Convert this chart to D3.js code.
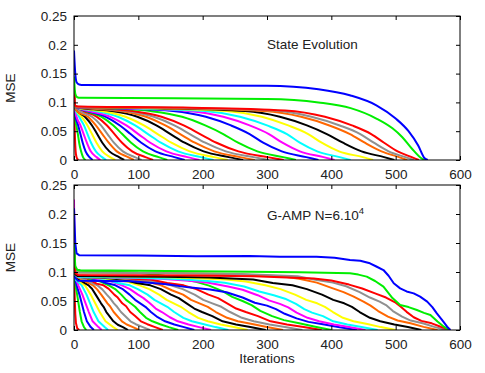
<!DOCTYPE html>
<html>
<head>
<meta charset="utf-8">
<script src="https://cdn.jsdelivr.net/npm/d3@7"></script>
<style>
  body { margin: 0; background: #fff; }
  text { font-family: "Liberation Sans", Arial, sans-serif; font-size: 13.5px; fill: #222; }
</style>
</head>
<body>
<div id="chart"></div>
<script>
// colour cycle used by the curves (gnuplot-like)
const lineColors = ["#ff0000", "#00ee00", "#0000ff", "#ff00ff", "#00ffff", "#ffff00", "#000000", "#ff6600", "#909090"];
const xTicks = [0, 100, 200, 300, 400, 500, 600];
const yTicks = [0, 0.05, 0.1, 0.15, 0.2, 0.25];

// State evolution: one curve per block, flat list of (iteration, MSE) pairs
const stateEvolution = [
  [0,.12, 1,.06, 2,.025, 3,.01, 5,.002, 7,0],
  [0,.12, 2,.07, 4,.058, 6,.045, 8,.03, 11,.015, 14,.005, 18,0],
  [0,.12, 2,.078, 6.5,.06, 10,.045, 13.5,.03, 18,.015, 24,.005, 29,0],
  [0,.12, 2,.085, 4,.075, 10,.06, 15,.045, 20,.03, 26,.015, 35,.005, 41,0],
  [0,.12, 2,.089, 8,.075, 15.5,.06, 21,.045, 26.5,.03, 34,.015, 43.6,.005, 50,0],
  [0,.12, 2,.09, 12,.075, 21,.06, 28,.045, 35,.03, 44,.015, 56,.005, 64,0],
  [0,.12, 2,.089, 17,.075, 28,.06, 36,.045, 44,.03, 55,.015, 70,.005, 78,0],
  [0,.12, 2,.091, 4.4,.085, 21.5,.075, 34,.06, 44,.045, 54,.03, 66.5,.015, 84,.005, 93,0],
  [0,.12, 2,.091, 5,.089, 9.6,.085, 28,.075, 42,.06, 52,.045, 62,.03, 76,.015, 94.5,.005, 105,0],
  [0,.12, 2,.092, 6,.09, 15,.085, 35.6,.075, 51.3,.06, 63,.045, 74.7,.03, 90.4,.015, 111,.005, 123,0],
  [0,.12, 2,.092, 6,.09, 18.4,.085, 42.8,.075, 61.2,.06, 75,.045, 88.8,.03, 107.2,.015, 131.6,.005, 145,0],
  [0,.12, 2,.092, 6,.09, 20,.085, 49.4,.075, 71.4,.06, 88,.045, 104.6,.03, 126.6,.015, 156,.005, 172,0],
  [0,.12, 2,.092, 6,.09, 23.6,.085, 56.5,.075, 81.4,.06, 100,.045, 118.6,.03, 143.5,.015, 176.4,.005, 195,0],
  [0,.12, 2,.092, 6,.09, 16,.088, 33,.085, 68.3,.075, 95,.06, 115,.045, 135,.03, 161.7,.015, 197,.005, 217,0],
  [0,.12, 2,.092, 6,.0905, 21,.088, 42.3,.085, 80,.075, 108.6,.06, 130,.045, 151.4,.03, 180,.015, 217.7,.005, 239,0],
  [0,.12, 2,.092, 6,.0905, 30,.088, 59.4,.085, 98.5,.075, 128,.06, 150,.045, 172,.03, 201.5,.015, 240.6,.005, 263,0],
  [0,.12, 2,.092, 6,.091, 36,.0885, 71.6,.085, 112,.075, 142,.06, 165,.045, 188,.03, 218,.015, 258,.005, 281,0],
  [0,.12, 2,.092, 6,.091, 40,.089, 81,.085, 124,.075, 156,.06, 180,.045, 204,.03, 236,.015, 279,.005, 303,0],
  [0,.12, 2,.092, 6,.0915, 45,.0895, 91,.085, 136,.075, 170.5,.06, 196,.045, 221.5,.03, 255.6,.015, 300.7,.005, 326,0],
  [0,.12, 2,.092, 6,.0915, 60,.0895, 119,.085, 168,.075, 204,.06, 232,.045, 255,.03, 285,.015, 325,.005, 345,0],
  [0,.12, 2,.092, 6,.0915, 75,.0895, 154,.085, 205,.075, 244,.06, 273,.045, 294,.03, 323,.015, 361,.005, 380,0],
  [0,.12, 2,.092, 6,.0915, 90,.0895, 178,.085, 232,.075, 273,.06, 303,.045, 324,.03, 351,.015, 388,.005, 405,0],
  [0,.12, 2,.092, 6,.092, 100,.0895, 204,.085, 258,.075, 300,.06, 331,.045, 351,.03, 378,.015, 413,.005, 430,0],
  [0,.12, 2,.093, 6,.092, 120,.0898, 237,.085, 292,.075, 333,.06, 364,.045, 385,.03, 412,.015, 449,.005, 465,0],
  [0,.12, 2,.093, 6,.092, 130,.09, 266,.085, 320,.075, 362,.06, 393,.045, 418,.03, 447,.015, 482,.005, 498,0],
  [0,.12, 2,.093, 6,.092, 150,.09, 296,.085, 353,.075, 397,.06, 429,.045, 452,.03, 478,.015, 505,.005, 518,0],
  [0,.12, 2,.094, 6,.0925, 160,.0905, 312,.086, 369,.075, 413,.06, 445,.045, 466,.03, 489,.015, 515,.005, 528,0],
  [0,.12, 2,.094, 6,.093, 170,.091, 328,.086, 390,.075, 432,.06, 462,.045, 482,.03, 503,.015, 525,.005, 536,0],
  [0,.145, 2,.115, 5,.109, 10,.108, 300,.106, 380,.10, 430,.09, 470,.072, 495,.055, 510,.04, 525,.02, 540,.003, 545,0],
  [0,.19, 2,.15, 4,.135, 8,.131, 15,.13, 300,.129, 380,.123, 430,.112, 470,.095, 500,.072, 520,.05, 535,.025, 545,.003, 550,0]
];

const gampRuns = [
  [0,.13, 1,.06, 2,.028, 3,.012, 5,.003, 8,0],
  [0,.13, 1,.09, 2.2,.077, 4.9,.061, 7,.046, 9.1,.031, 11.8,.015, 15.5,.005, 19,0],
  [0,.13, 2,.088, 4,.077, 8.5,.061, 12,.046, 15.5,.031, 20,.015, 26,.005, 31,0],
  [0,.225, 1,.12, 2,.092, 6.7,.077, 13,.061, 18,.046, 23,.031, 29,.015, 38,.005, 43,0],
  [0,.13, 2.4,.087, 12,.077, 19.5,.061, 25,.046, 30.5,.031, 38,.015, 47.6,.005, 53,0],
  [0,.13, 2,.093, 4.7,.087, 17,.077, 26,.061, 33,.046, 40,.031, 49,.015, 61,.005, 68,0],
  [0,.13, 2,.093, 8,.087, 22.7,.077, 28,.071, 33.7,.061, 42,.046, 46,.040, 50.3,.031, 61.3,.015, 68,.009, 76,.005, 84,0],
  [0,.13, 2,.093, 12.4,.087, 29.5,.077, 36,.070, 42.3,.061, 52,.046, 56,.041, 61.7,.031, 74.5,.015, 82,.0095, 91.6,.005, 101,0],
  [0,.13, 2,.093, 16.7,.087, 36.2,.077, 44,.070, 51,.061, 56,.055, 62,.046, 67,.040, 73,.031, 87.8,.015, 96,.010, 107,.005, 118,0],
  [0,.13, 2,.094, 6,.092, 15,.091, 24,.087, 35,.080, 46,.077, 54,.071, 62.6,.061, 68,.056, 75,.046, 81,.041, 87.4,.031, 95,.024, 104,.015, 114,.010, 126,.005, 138,0],
  [0,.13, 2,.094, 6,.092, 17,.0905, 28.6,.087, 41,.0835, 54.2,.077, 64,.0705, 73.5,.061, 81,.052, 88,.046, 95,.040, 102.5,.031, 112,.021, 121.8,.015, 134,.010, 147.4,.005, 162,0],
  [0,.13, 2,.094, 6,.092, 20,.091, 35,.087, 50,.081, 64.4,.077, 75,.071, 86.4,.061, 95,.052, 103,.046, 111,.040, 119.6,.031, 130,.022, 141.6,.015, 156,.0095, 171,.005, 187,0],
  [0,.13, 2,.094, 6,.092, 24,.0905, 41.6,.087, 58,.0835, 74.5,.077, 87,.0705, 99.4,.061, 108,.055, 118,.046, 127,.037, 136.6,.031, 149,.022, 161.5,.015, 178,.0095, 194.4,.005, 213,0],
  [0,.13, 2,.094, 6,.092, 28,.091, 50,.087, 68,.081, 86.7,.077, 100,.070, 114.3,.061, 125,.052, 135,.046, 145,.040, 155.7,.031, 170,.021, 183.3,.015, 202,.010, 220,.005, 240,0],
  [0,.13, 2,.094, 6,.092, 34,.0905, 61.6,.087, 82,.0835, 101.9,.077, 117,.0705, 132.2,.061, 144,.052, 155,.046, 166,.040, 177.8,.031, 193,.021, 208,.015, 228,.0095, 248.4,.005, 270,0],
  [0,.13, 2,.094, 6,.092, 40,.0905, 76,.087, 97,.081, 118.7,.077, 135,.0705, 150.8,.061, 163,.055, 175,.046, 187,.037, 199,.031, 215,.024, 231,.015, 252,.0095, 274,.005, 298,0],
  [0,.13, 2,.095, 6,.093, 48,.0915, 90.3,.087, 113,.0835, 135.4,.077, 152,.0685, 169.5,.061, 182,.052, 195,.046, 208,.040, 220.5,.031, 238,.021, 254.6,.015, 277,.0105, 299.7,.005, 325,0],
  [0,.13, 2,.095, 6,.093, 54,.0905, 101.8,.087, 126,.0835, 150.6,.077, 169,.0705, 187.4,.061, 201,.052, 215,.046, 229,.040, 242.6,.031, 261,.021, 279.4,.015, 304,.0095, 328,.005, 355,0],
  [0,.13, 2,.096, 6,.094, 60,.092, 90,.0885, 119,.087, 145,.081, 170.4,.077, 190,.0705, 209,.061, 224,.055, 238,.046, 252,.037, 267,.031, 286,.024, 305.6,.015, 331,.0095, 357,.005, 385,0],
  [0,.14, 2,.106, 6,.102, 70,.1, 100,.0985, 134.7,.0944, 162,.0895, 189.6,.083, 210,.0765, 231,.067, 246,.057, 262,.05, 276,.043, 289.6,.033, 308,.024, 326.4,.017, 350,.0115, 375,.0056, 400,0],
  [0,.14, 2,.09, 6,.085, 48,.0845, 90,.084, 117,.0815, 144,.079, 178,.0735, 211.5,.07, 237,.065, 262,.056, 281,.047, 300,.042, 314,.036, 327.6,.028, 346,.020, 364.4,.014, 389,.0095, 413,.0047, 440,0],
  [0,.13, 2,.095, 6,.092, 90,.09, 135,.0885, 178.5,.085, 209,.0815, 239.5,.075, 262,.0695, 285.5,.06, 303,.051, 320,.045, 333,.039, 346,.03, 363,.021, 381,.015, 404,.0095, 427.5,.005, 453,0],
  [0,.13, 2,.095, 6,.092, 100,.09, 150,.0885, 203.5,.085, 234,.0815, 264.5,.075, 288,.0665, 310.5,.06, 328,.054, 345,.045, 358,.036, 370,.03, 387,.024, 403,.015, 425,.0095, 447,.005, 472,0],
  [0,.13, 2,.096, 6,.093, 120,.092, 180,.0895, 236.5,.087, 267,.0835, 297.5,.077, 321,.0705, 343.5,.061, 361,.052, 378,.046, 390,.040, 402.5,.031, 418,.021, 434.4,.015, 456,.0105, 477,.005, 500,0],
  [0,.13, 2,.096, 6,.093, 140,.092, 210,.0905, 278.5,.087, 309,.081, 339.5,.077, 362,.0705, 385.5,.061, 403,.052, 420,.046, 432,.040, 444,.031, 460,.021, 476,.015, 498,.0095, 519,.005, 540,0],
  [0,.14, 2,.102, 6,.099, 160,.098, 240,.0965, 322.6,.0925, 350,.0885, 377.5,.0817, 398,.0735, 419,.0653, 434,.058, 450,.049, 461,.042, 472.8,.0327, 488,.023, 503,.0163, 523,.0115, 543.4,.0054, 565,0],
  [0,.14, 2,.102, 6,.099, 170,.098, 260,.0965, 347.6,.0925, 375,.0865, 402.5,.0817, 423,.0755, 444,.0653, 460,.056, 475,.049, 485,.043, 495.7,.0327, 510,.023, 523.3,.0163, 542,.0115, 560,.0054, 578,0],
  [0,.14, 2,.098, 6,.095, 180,.094, 280,.0925, 372.6,.0888, 400,.0855, 427.5,.0783, 448,.0715, 469,.0627, 485,.056, 500,.047, 508,.040, 517,.0313, 528,.022, 540,.0157, 556,.0115, 571,.0052, 585,0],
  [0,.15, 2,.11, 5,.104, 10,.103, 100,.102, 190,.1015, 275,.1006, 350,.0995, 429,.0977, 442,.0955, 455,.092, 468,.0845, 481,.0747, 495,.055, 507,.043, 520,.0395, 533,.0345, 544,.0295, 554,.0259, 565,.0145, 575,.0057, 583,0],
  [0,.21, 2,.15, 4,.132, 8,.129, 100,.1285, 190,.1272, 273,.1276, 320,.1262, 377,.1264, 405,.1245, 429,.1207, 445,.1195, 460,.115, 470,.1095, 481,.1034, 489,.0935, 497,.0805, 507,.0718, 517,.0665, 528,.0632, 538,.0575, 549,.049, 557,.0395, 564,.0287, 572,.0175, 580,.0057, 585,0]
];

const width = 485, height = 373;
const left = 74, right = 460;

const svg = d3.select("#chart").append("svg")
    .attr("width", width)
    .attr("height", height);

const x = d3.scaleLinear().domain([0, 600]).range([left, right]);

function toPairs(flat) {
    return d3.range(0, flat.length, 2).map(i => [flat[i], flat[i + 1]]);
}

function drawPanel(curves, top, bottom, id, curve) {
    const y = d3.scaleLinear().domain([0, 0.25]).range([bottom, top]);
    const g = svg.append("g");

    g.append("clipPath").attr("id", id)
      .append("rect")
        .attr("x", left).attr("y", top)
        .attr("width", right - left).attr("height", bottom - top);

    const line = d3.line()
        .x(d => x(d[0]))
        .y(d => y(d[1]))
        .curve(curve);

    g.append("g").attr("clip-path", `url(#${id})`)
      .selectAll("path")
      .data(curves)
      .join("path")
        .attr("d", d => line(toPairs(d)))
        .attr("fill", "none")
        .attr("stroke", (d, i) => lineColors[i % lineColors.length])
        .attr("stroke-width", 2)
        .attr("stroke-linejoin", "round");

    // mirrored inward ticks on all four sides
    const fmt = d => d === 0 ? "0" : String(d);
    g.append("g").attr("transform", `translate(0,${bottom})`)
        .call(d3.axisBottom(x).tickValues(xTicks).tickSize(-4).tickSizeOuter(0).tickPadding(9));
    g.append("g").attr("transform", `translate(0,${top})`)
        .call(d3.axisTop(x).tickValues(xTicks).tickSize(-4).tickSizeOuter(0).tickFormat(""));
    g.append("g").attr("transform", `translate(${left},0)`)
        .call(d3.axisLeft(y).tickValues(yTicks).tickSize(-4).tickSizeOuter(0).tickPadding(7).tickFormat(fmt));
    g.append("g").attr("transform", `translate(${right},0)`)
        .call(d3.axisRight(y).tickValues(yTicks).tickSize(-4).tickSizeOuter(0).tickFormat(""));

    g.selectAll(".domain").remove();
    g.selectAll(".tick line").attr("stroke", "#000");
    g.selectAll(".tick text")
        .attr("fill", "#222")
        .style("font-family", '"Liberation Sans", Arial, sans-serif')
        .style("font-size", "13.5px");

    g.append("rect")
        .attr("x", left).attr("y", top)
        .attr("width", right - left).attr("height", bottom - top)
        .attr("fill", "none")
        .attr("stroke", "#000")
        .attr("stroke-width", 1);

    g.append("text")
        .attr("transform", `translate(15,${(top + bottom) / 2}) rotate(-90)`)
        .attr("text-anchor", "middle")
        .text("MSE");

    return g;
}

const gTop = drawPanel(stateEvolution, 16, 160, "clipTop", d3.curveMonotoneX);
gTop.append("text").attr("x", 267).attr("y", 49).text("State Evolution");

const gBot = drawPanel(gampRuns, 185, 330, "clipBot", d3.curveLinear);
const lab = gBot.append("text").attr("x", 267).attr("y", 220);
lab.append("tspan").text("G-AMP N=6.10");
lab.append("tspan").attr("dy", -6).style("font-size", "9.5px").text("4");

svg.append("text")
    .attr("x", (left + right) / 2)
    .attr("y", 363)
    .attr("text-anchor", "middle")
    .text("Iterations");
</script>
</body>
</html>
